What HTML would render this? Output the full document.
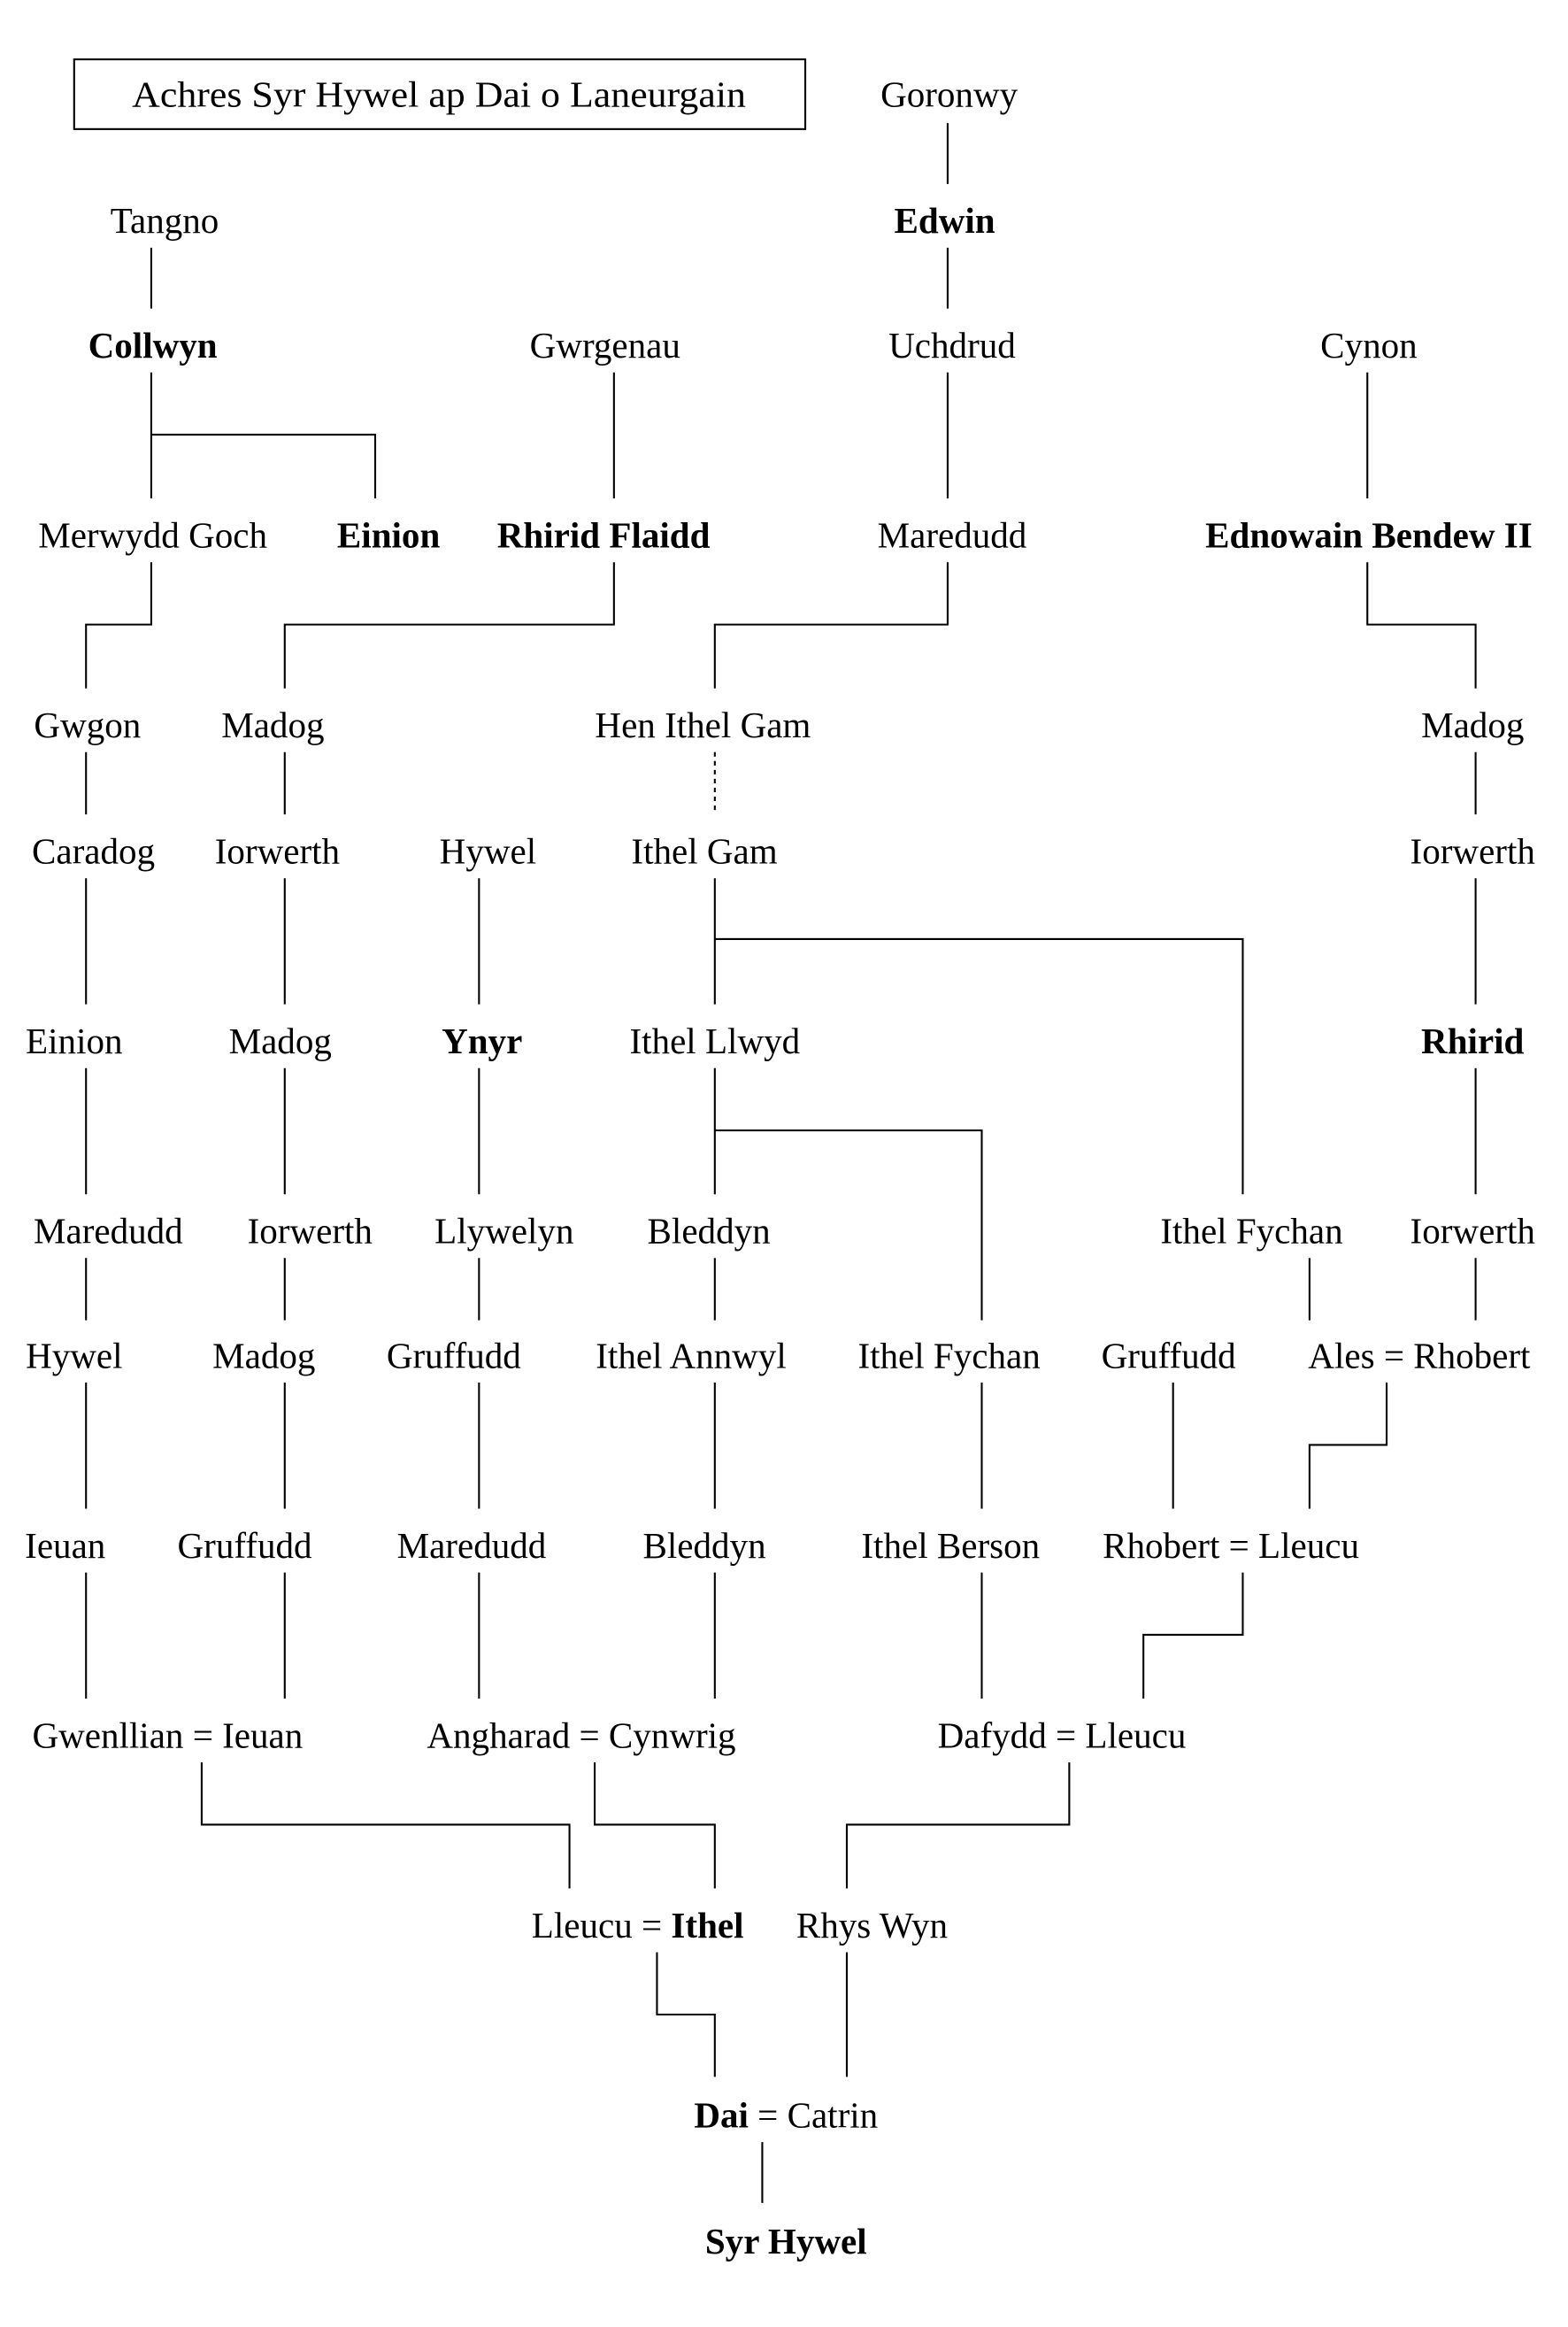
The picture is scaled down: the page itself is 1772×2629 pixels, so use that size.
<!DOCTYPE html>
<html><head><meta charset="utf-8"><style>html,body{margin:0;padding:0;background:#fff}svg{display:block}</style></head>
<body>
<svg xmlns="http://www.w3.org/2000/svg" width="1772" height="2629" viewBox="0 0 1057.3 1568.6">
<rect width="1058" height="1569" fill="#fff"/>
<g fill="none" stroke="#000" stroke-width="1.25">
<rect x="50" y="40" width="493" height="47"/>
<path d="M639 83V124M639 167V208M639 251V336M102 167V208M102 251V336M102 293H253V336M414 251V336M922 251V336"/>
<path d="M102 379V421H58V464M414 379V421H192V464M639 379V421H482V464M922 379V421H995V464"/>
<path d="M58 507V549M192 507V549M995 507V549"/>
<path d="M482 507V549" stroke-dasharray="3,3"/>
<path d="M58 592V677M192 592V677M323 592V677M482 592V677M482 633H838V805M995 592V677"/>
<path d="M58 720V805M192 720V805M323 720V805M482 720V805M482 762H662V890M995 720V805"/>
<path d="M58 848V890M192 848V890M323 848V890M482 848V890M883 848V890M995 848V890"/>
<path d="M58 932V1017M192 932V1017M323 932V1017M482 932V1017M662 932V1017M791 932V1017M935 932V974H883V1017"/>
<path d="M58 1060V1145M192 1060V1145M323 1060V1145M482 1060V1145M662 1060V1145M838 1060V1102H771V1145"/>
<path d="M136 1188V1230H384V1273M401 1188V1230H482V1273M721 1188V1230H571V1273"/>
<path d="M443 1316V1358H482V1400M571 1316V1400M514 1444V1485"/>
</g>
<g font-family="'Liberation Serif', serif" font-size="24.5" text-anchor="middle" fill="#000">
<text x="296" y="72" textLength="414" lengthAdjust="spacingAndGlyphs">Achres Syr Hywel ap Dai o Laneurgain</text>
<text x="640" y="72">Goronwy</text>
<text x="637" y="157" font-weight="bold">Edwin</text>
<text x="111" y="157">Tangno</text>
<text x="103" y="241" font-weight="bold">Collwyn</text>
<text x="408" y="241">Gwrgenau</text>
<text x="642" y="241">Uchdrud</text>
<text x="923" y="241">Cynon</text>
<text x="103" y="369">Merwydd Goch</text>
<text x="262" y="369" font-weight="bold">Einion</text>
<text x="407" y="369" font-weight="bold">Rhirid Flaidd</text>
<text x="642" y="369">Maredudd</text>
<text x="923" y="369" font-weight="bold">Ednowain Bendew II</text>
<text x="59" y="497">Gwgon</text>
<text x="184" y="497">Madog</text>
<text x="474" y="497">Hen Ithel Gam</text>
<text x="993" y="497">Madog</text>
<text x="63" y="582">Caradog</text>
<text x="187" y="582">Iorwerth</text>
<text x="329" y="582">Hywel</text>
<text x="475" y="582">Ithel Gam</text>
<text x="993" y="582">Iorwerth</text>
<text x="50" y="710">Einion</text>
<text x="189" y="710">Madog</text>
<text x="325" y="710" font-weight="bold">Ynyr</text>
<text x="482" y="710">Ithel Llwyd</text>
<text x="993" y="710" font-weight="bold">Rhirid</text>
<text x="73" y="838">Maredudd</text>
<text x="209" y="838">Iorwerth</text>
<text x="340" y="838">Llywelyn</text>
<text x="478" y="838">Bleddyn</text>
<text x="844" y="838">Ithel Fychan</text>
<text x="993" y="838">Iorwerth</text>
<text x="50" y="922">Hywel</text>
<text x="178" y="922">Madog</text>
<text x="306" y="922">Gruffudd</text>
<text x="466" y="922">Ithel Annwyl</text>
<text x="640" y="922">Ithel Fychan</text>
<text x="788" y="922">Gruffudd</text>
<text x="957" y="922">Ales = Rhobert</text>
<text x="44" y="1050">Ieuan</text>
<text x="165" y="1050">Gruffudd</text>
<text x="318" y="1050">Maredudd</text>
<text x="475" y="1050">Bleddyn</text>
<text x="641" y="1050">Ithel Berson</text>
<text x="830" y="1050">Rhobert = Lleucu</text>
<text x="113" y="1178">Gwenllian = Ieuan</text>
<text x="392" y="1178">Angharad = Cynwrig</text>
<text x="716" y="1178">Dafydd = Lleucu</text>
<text x="430" y="1306">Lleucu = <tspan font-weight="bold">Ithel</tspan></text>
<text x="588" y="1306">Rhys Wyn</text>
<text x="530" y="1434"><tspan font-weight="bold">Dai</tspan> = Catrin</text>
<text x="530" y="1519" font-weight="bold">Syr Hywel</text>
</g>
</svg>
</body></html>
